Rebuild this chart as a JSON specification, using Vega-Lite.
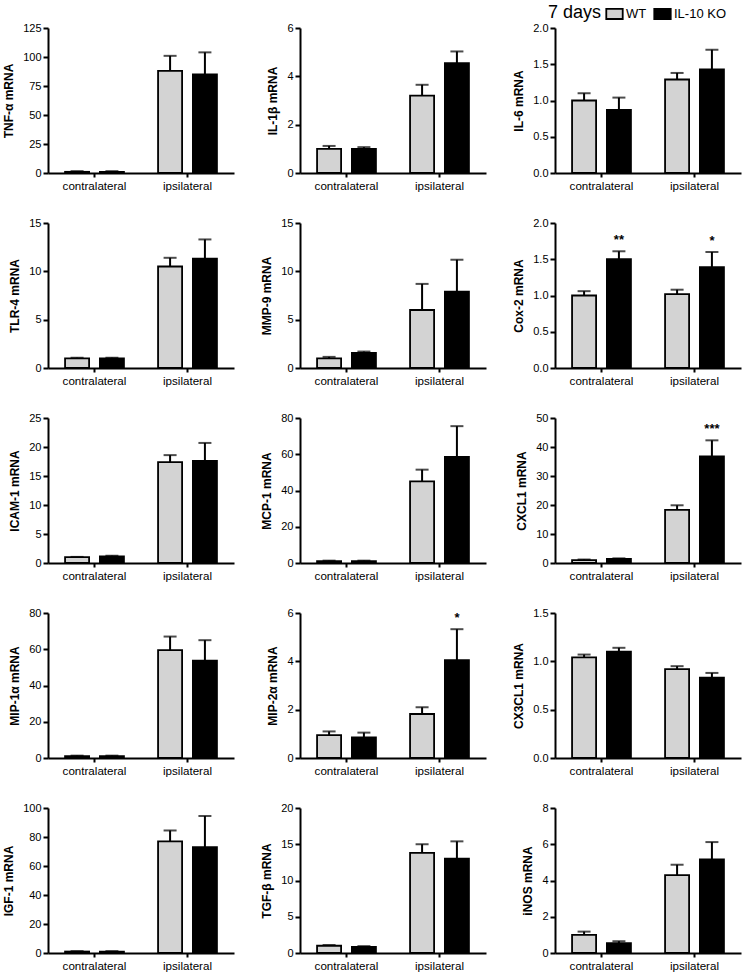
{
"$schema":"https://vega.github.io/schema/vega-lite/v6.json",
"padding":{"left":2,"top":4,"right":2,"bottom":4},
"background":"white",
"datasets":{"d":[
{"g":"TNF","side":"contralateral","group":"WT","mean":1,"hi":1.6},
{"g":"TNF","side":"contralateral","group":"IL-10 KO","mean":1,"hi":1.6},
{"g":"TNF","side":"ipsilateral","group":"WT","mean":88,"hi":101},
{"g":"TNF","side":"ipsilateral","group":"IL-10 KO","mean":85,"hi":104},
{"g":"IL1b","side":"contralateral","group":"WT","mean":1.0,"hi":1.12},
{"g":"IL1b","side":"contralateral","group":"IL-10 KO","mean":1.0,"hi":1.07},
{"g":"IL1b","side":"ipsilateral","group":"WT","mean":3.2,"hi":3.65},
{"g":"IL1b","side":"ipsilateral","group":"IL-10 KO","mean":4.55,"hi":5.03},
{"g":"IL6","side":"contralateral","group":"WT","mean":1.0,"hi":1.1},
{"g":"IL6","side":"contralateral","group":"IL-10 KO","mean":0.87,"hi":1.04},
{"g":"IL6","side":"ipsilateral","group":"WT","mean":1.29,"hi":1.38},
{"g":"IL6","side":"ipsilateral","group":"IL-10 KO","mean":1.43,"hi":1.7},
{"g":"TLR4","side":"contralateral","group":"WT","mean":1.0,"hi":1.06},
{"g":"TLR4","side":"contralateral","group":"IL-10 KO","mean":1.0,"hi":1.06},
{"g":"TLR4","side":"ipsilateral","group":"WT","mean":10.5,"hi":11.4},
{"g":"TLR4","side":"ipsilateral","group":"IL-10 KO","mean":11.3,"hi":13.3},
{"g":"MMP9","side":"contralateral","group":"WT","mean":1.0,"hi":1.15},
{"g":"MMP9","side":"contralateral","group":"IL-10 KO","mean":1.55,"hi":1.7},
{"g":"MMP9","side":"ipsilateral","group":"WT","mean":6.0,"hi":8.7},
{"g":"MMP9","side":"ipsilateral","group":"IL-10 KO","mean":7.9,"hi":11.2},
{"g":"COX2","side":"contralateral","group":"WT","mean":1.0,"hi":1.06},
{"g":"COX2","side":"contralateral","group":"IL-10 KO","mean":1.5,"hi":1.61,"sig":"**"},
{"g":"COX2","side":"ipsilateral","group":"WT","mean":1.02,"hi":1.08},
{"g":"COX2","side":"ipsilateral","group":"IL-10 KO","mean":1.39,"hi":1.6,"sig":"*"},
{"g":"ICAM","side":"contralateral","group":"WT","mean":1.0,"hi":1.05},
{"g":"ICAM","side":"contralateral","group":"IL-10 KO","mean":1.15,"hi":1.25},
{"g":"ICAM","side":"ipsilateral","group":"WT","mean":17.4,"hi":18.6},
{"g":"ICAM","side":"ipsilateral","group":"IL-10 KO","mean":17.6,"hi":20.7},
{"g":"MCP1","side":"contralateral","group":"WT","mean":1,"hi":1.3},
{"g":"MCP1","side":"contralateral","group":"IL-10 KO","mean":1,"hi":1.3},
{"g":"MCP1","side":"ipsilateral","group":"WT","mean":45,"hi":51.5},
{"g":"MCP1","side":"ipsilateral","group":"IL-10 KO","mean":58.5,"hi":75.5},
{"g":"CXCL1","side":"contralateral","group":"WT","mean":1.0,"hi":1.2},
{"g":"CXCL1","side":"contralateral","group":"IL-10 KO","mean":1.4,"hi":1.6},
{"g":"CXCL1","side":"ipsilateral","group":"WT","mean":18.3,"hi":19.9},
{"g":"CXCL1","side":"ipsilateral","group":"IL-10 KO","mean":36.8,"hi":42.3,"sig":"***"},
{"g":"MIP1a","side":"contralateral","group":"WT","mean":1,"hi":1.3},
{"g":"MIP1a","side":"contralateral","group":"IL-10 KO","mean":1,"hi":1.3},
{"g":"MIP1a","side":"ipsilateral","group":"WT","mean":59.5,"hi":67},
{"g":"MIP1a","side":"ipsilateral","group":"IL-10 KO","mean":53.7,"hi":65},
{"g":"MIP2a","side":"contralateral","group":"WT","mean":0.95,"hi":1.1},
{"g":"MIP2a","side":"contralateral","group":"IL-10 KO","mean":0.85,"hi":1.05},
{"g":"MIP2a","side":"ipsilateral","group":"WT","mean":1.82,"hi":2.1},
{"g":"MIP2a","side":"ipsilateral","group":"IL-10 KO","mean":4.05,"hi":5.33,"sig":"*"},
{"g":"CX3CL1","side":"contralateral","group":"WT","mean":1.04,"hi":1.07},
{"g":"CX3CL1","side":"contralateral","group":"IL-10 KO","mean":1.1,"hi":1.14},
{"g":"CX3CL1","side":"ipsilateral","group":"WT","mean":0.92,"hi":0.95},
{"g":"CX3CL1","side":"ipsilateral","group":"IL-10 KO","mean":0.83,"hi":0.88},
{"g":"IGF1","side":"contralateral","group":"WT","mean":1,"hi":1.3},
{"g":"IGF1","side":"contralateral","group":"IL-10 KO","mean":1,"hi":1.3},
{"g":"IGF1","side":"ipsilateral","group":"WT","mean":77,"hi":84.5},
{"g":"IGF1","side":"ipsilateral","group":"IL-10 KO","mean":73,"hi":94.5},
{"g":"TGFb","side":"contralateral","group":"WT","mean":1.0,"hi":1.1},
{"g":"TGFb","side":"contralateral","group":"IL-10 KO","mean":0.85,"hi":0.95},
{"g":"TGFb","side":"ipsilateral","group":"WT","mean":13.8,"hi":15},
{"g":"TGFb","side":"ipsilateral","group":"IL-10 KO","mean":13,"hi":15.4},
{"g":"iNOS","side":"contralateral","group":"WT","mean":1.0,"hi":1.18},
{"g":"iNOS","side":"contralateral","group":"IL-10 KO","mean":0.55,"hi":0.65},
{"g":"iNOS","side":"ipsilateral","group":"WT","mean":4.3,"hi":4.87},
{"g":"iNOS","side":"ipsilateral","group":"IL-10 KO","mean":5.17,"hi":6.12}
]},
"data":{"name":"d"},
"columns":3,
"spacing":{"row":25,"column":26},
"resolve":{"scale":{"x":"independent","y":"independent"}},
"concat":[
{"width":186,"height":145,"transform":[{"filter":"datum.g==='TNF'"}],
 "encoding":{"x":{"field":"side","type":"nominal","scale":{"domain":["contralateral","ipsilateral"],"paddingInner":0,"paddingOuter":0},"axis":{"title":null,"labelAngle":0}},
  "xOffset":{"field":"group","scale":{"domain":["WT","IL-10 KO"],"paddingInner":0.31,"paddingOuter":0.49}},
  "y":{"field":"mean","type":"quantitative","scale":{"domain":[0,125],"nice":false},"axis":{"title":"TNF-α mRNA","values":[0,25,50,75,100,125]}}},
 "layer":[
  {"mark":"bar","encoding":{"color":{"field":"group","title":"7 days","scale":{"domain":["WT","IL-10 KO"],"range":["#d3d3d3","#000000"]}}}},
  {"mark":"rule","encoding":{"y2":{"field":"hi"}}},
  {"mark":{"type":"tick","size":13},"encoding":{"y":{"field":"hi","type":"quantitative"}}}]},
{"width":186,"height":145,"transform":[{"filter":"datum.g==='IL1b'"}],
 "encoding":{"x":{"field":"side","type":"nominal","scale":{"domain":["contralateral","ipsilateral"],"paddingInner":0,"paddingOuter":0},"axis":{"title":null,"labelAngle":0}},
  "xOffset":{"field":"group","scale":{"domain":["WT","IL-10 KO"],"paddingInner":0.31,"paddingOuter":0.49}},
  "y":{"field":"mean","type":"quantitative","scale":{"domain":[0,6],"nice":false},"axis":{"title":"IL-1β mRNA","values":[0,2,4,6]}}},
 "layer":[
  {"mark":"bar","encoding":{"color":{"field":"group","title":"7 days","scale":{"domain":["WT","IL-10 KO"],"range":["#d3d3d3","#000000"]}}}},
  {"mark":"rule","encoding":{"y2":{"field":"hi"}}},
  {"mark":{"type":"tick","size":13},"encoding":{"y":{"field":"hi","type":"quantitative"}}}]},
{"width":186,"height":145,"transform":[{"filter":"datum.g==='IL6'"}],
 "encoding":{"x":{"field":"side","type":"nominal","scale":{"domain":["contralateral","ipsilateral"],"paddingInner":0,"paddingOuter":0},"axis":{"title":null,"labelAngle":0}},
  "xOffset":{"field":"group","scale":{"domain":["WT","IL-10 KO"],"paddingInner":0.31,"paddingOuter":0.49}},
  "y":{"field":"mean","type":"quantitative","scale":{"domain":[0,2],"nice":false},"axis":{"title":"IL-6 mRNA","values":[0,0.5,1,1.5,2],"format":".1f"}}},
 "layer":[
  {"mark":"bar","encoding":{"color":{"field":"group","title":"7 days","scale":{"domain":["WT","IL-10 KO"],"range":["#d3d3d3","#000000"]}}}},
  {"mark":"rule","encoding":{"y2":{"field":"hi"}}},
  {"mark":{"type":"tick","size":13},"encoding":{"y":{"field":"hi","type":"quantitative"}}}]},
{"width":186,"height":145,"transform":[{"filter":"datum.g==='TLR4'"}],
 "encoding":{"x":{"field":"side","type":"nominal","scale":{"domain":["contralateral","ipsilateral"],"paddingInner":0,"paddingOuter":0},"axis":{"title":null,"labelAngle":0}},
  "xOffset":{"field":"group","scale":{"domain":["WT","IL-10 KO"],"paddingInner":0.31,"paddingOuter":0.49}},
  "y":{"field":"mean","type":"quantitative","scale":{"domain":[0,15],"nice":false},"axis":{"title":"TLR-4 mRNA","values":[0,5,10,15]}}},
 "layer":[
  {"mark":"bar","encoding":{"color":{"field":"group","title":"7 days","scale":{"domain":["WT","IL-10 KO"],"range":["#d3d3d3","#000000"]}}}},
  {"mark":"rule","encoding":{"y2":{"field":"hi"}}},
  {"mark":{"type":"tick","size":13},"encoding":{"y":{"field":"hi","type":"quantitative"}}}]},
{"width":186,"height":145,"transform":[{"filter":"datum.g==='MMP9'"}],
 "encoding":{"x":{"field":"side","type":"nominal","scale":{"domain":["contralateral","ipsilateral"],"paddingInner":0,"paddingOuter":0},"axis":{"title":null,"labelAngle":0}},
  "xOffset":{"field":"group","scale":{"domain":["WT","IL-10 KO"],"paddingInner":0.31,"paddingOuter":0.49}},
  "y":{"field":"mean","type":"quantitative","scale":{"domain":[0,15],"nice":false},"axis":{"title":"MMP-9 mRNA","values":[0,5,10,15]}}},
 "layer":[
  {"mark":"bar","encoding":{"color":{"field":"group","title":"7 days","scale":{"domain":["WT","IL-10 KO"],"range":["#d3d3d3","#000000"]}}}},
  {"mark":"rule","encoding":{"y2":{"field":"hi"}}},
  {"mark":{"type":"tick","size":13},"encoding":{"y":{"field":"hi","type":"quantitative"}}}]},
{"width":186,"height":145,"transform":[{"filter":"datum.g==='COX2'"}],
 "encoding":{"x":{"field":"side","type":"nominal","scale":{"domain":["contralateral","ipsilateral"],"paddingInner":0,"paddingOuter":0},"axis":{"title":null,"labelAngle":0}},
  "xOffset":{"field":"group","scale":{"domain":["WT","IL-10 KO"],"paddingInner":0.31,"paddingOuter":0.49}},
  "y":{"field":"mean","type":"quantitative","scale":{"domain":[0,2],"nice":false},"axis":{"title":"Cox-2 mRNA","values":[0,0.5,1,1.5,2],"format":".1f"}}},
 "layer":[
  {"mark":"bar","encoding":{"color":{"field":"group","title":"7 days","scale":{"domain":["WT","IL-10 KO"],"range":["#d3d3d3","#000000"]}}}},
  {"mark":"rule","encoding":{"y2":{"field":"hi"}}},
  {"mark":{"type":"tick","size":13},"encoding":{"y":{"field":"hi","type":"quantitative"}}},
  {"transform":[{"filter":"datum.sig"}],"mark":{"type":"text","dy":-11},"encoding":{"y":{"field":"hi","type":"quantitative"},"text":{"field":"sig"}}}]},
{"width":186,"height":145,"transform":[{"filter":"datum.g==='ICAM'"}],
 "encoding":{"x":{"field":"side","type":"nominal","scale":{"domain":["contralateral","ipsilateral"],"paddingInner":0,"paddingOuter":0},"axis":{"title":null,"labelAngle":0}},
  "xOffset":{"field":"group","scale":{"domain":["WT","IL-10 KO"],"paddingInner":0.31,"paddingOuter":0.49}},
  "y":{"field":"mean","type":"quantitative","scale":{"domain":[0,25],"nice":false},"axis":{"title":"ICAM-1 mRNA","values":[0,5,10,15,20,25]}}},
 "layer":[
  {"mark":"bar","encoding":{"color":{"field":"group","title":"7 days","scale":{"domain":["WT","IL-10 KO"],"range":["#d3d3d3","#000000"]}}}},
  {"mark":"rule","encoding":{"y2":{"field":"hi"}}},
  {"mark":{"type":"tick","size":13},"encoding":{"y":{"field":"hi","type":"quantitative"}}}]},
{"width":186,"height":145,"transform":[{"filter":"datum.g==='MCP1'"}],
 "encoding":{"x":{"field":"side","type":"nominal","scale":{"domain":["contralateral","ipsilateral"],"paddingInner":0,"paddingOuter":0},"axis":{"title":null,"labelAngle":0}},
  "xOffset":{"field":"group","scale":{"domain":["WT","IL-10 KO"],"paddingInner":0.31,"paddingOuter":0.49}},
  "y":{"field":"mean","type":"quantitative","scale":{"domain":[0,80],"nice":false},"axis":{"title":"MCP-1 mRNA","values":[0,20,40,60,80]}}},
 "layer":[
  {"mark":"bar","encoding":{"color":{"field":"group","title":"7 days","scale":{"domain":["WT","IL-10 KO"],"range":["#d3d3d3","#000000"]}}}},
  {"mark":"rule","encoding":{"y2":{"field":"hi"}}},
  {"mark":{"type":"tick","size":13},"encoding":{"y":{"field":"hi","type":"quantitative"}}}]},
{"width":186,"height":145,"transform":[{"filter":"datum.g==='CXCL1'"}],
 "encoding":{"x":{"field":"side","type":"nominal","scale":{"domain":["contralateral","ipsilateral"],"paddingInner":0,"paddingOuter":0},"axis":{"title":null,"labelAngle":0}},
  "xOffset":{"field":"group","scale":{"domain":["WT","IL-10 KO"],"paddingInner":0.31,"paddingOuter":0.49}},
  "y":{"field":"mean","type":"quantitative","scale":{"domain":[0,50],"nice":false},"axis":{"title":"CXCL1 mRNA","values":[0,10,20,30,40,50]}}},
 "layer":[
  {"mark":"bar","encoding":{"color":{"field":"group","title":"7 days","scale":{"domain":["WT","IL-10 KO"],"range":["#d3d3d3","#000000"]}}}},
  {"mark":"rule","encoding":{"y2":{"field":"hi"}}},
  {"mark":{"type":"tick","size":13},"encoding":{"y":{"field":"hi","type":"quantitative"}}},
  {"transform":[{"filter":"datum.sig"}],"mark":{"type":"text","dy":-11},"encoding":{"y":{"field":"hi","type":"quantitative"},"text":{"field":"sig"}}}]},
{"width":186,"height":145,"transform":[{"filter":"datum.g==='MIP1a'"}],
 "encoding":{"x":{"field":"side","type":"nominal","scale":{"domain":["contralateral","ipsilateral"],"paddingInner":0,"paddingOuter":0},"axis":{"title":null,"labelAngle":0}},
  "xOffset":{"field":"group","scale":{"domain":["WT","IL-10 KO"],"paddingInner":0.31,"paddingOuter":0.49}},
  "y":{"field":"mean","type":"quantitative","scale":{"domain":[0,80],"nice":false},"axis":{"title":"MIP-1α mRNA","values":[0,20,40,60,80]}}},
 "layer":[
  {"mark":"bar","encoding":{"color":{"field":"group","title":"7 days","scale":{"domain":["WT","IL-10 KO"],"range":["#d3d3d3","#000000"]}}}},
  {"mark":"rule","encoding":{"y2":{"field":"hi"}}},
  {"mark":{"type":"tick","size":13},"encoding":{"y":{"field":"hi","type":"quantitative"}}}]},
{"width":186,"height":145,"transform":[{"filter":"datum.g==='MIP2a'"}],
 "encoding":{"x":{"field":"side","type":"nominal","scale":{"domain":["contralateral","ipsilateral"],"paddingInner":0,"paddingOuter":0},"axis":{"title":null,"labelAngle":0}},
  "xOffset":{"field":"group","scale":{"domain":["WT","IL-10 KO"],"paddingInner":0.31,"paddingOuter":0.49}},
  "y":{"field":"mean","type":"quantitative","scale":{"domain":[0,6],"nice":false},"axis":{"title":"MIP-2α mRNA","values":[0,2,4,6]}}},
 "layer":[
  {"mark":"bar","encoding":{"color":{"field":"group","title":"7 days","scale":{"domain":["WT","IL-10 KO"],"range":["#d3d3d3","#000000"]}}}},
  {"mark":"rule","encoding":{"y2":{"field":"hi"}}},
  {"mark":{"type":"tick","size":13},"encoding":{"y":{"field":"hi","type":"quantitative"}}},
  {"transform":[{"filter":"datum.sig"}],"mark":{"type":"text","dy":-11},"encoding":{"y":{"field":"hi","type":"quantitative"},"text":{"field":"sig"}}}]},
{"width":186,"height":145,"transform":[{"filter":"datum.g==='CX3CL1'"}],
 "encoding":{"x":{"field":"side","type":"nominal","scale":{"domain":["contralateral","ipsilateral"],"paddingInner":0,"paddingOuter":0},"axis":{"title":null,"labelAngle":0}},
  "xOffset":{"field":"group","scale":{"domain":["WT","IL-10 KO"],"paddingInner":0.31,"paddingOuter":0.49}},
  "y":{"field":"mean","type":"quantitative","scale":{"domain":[0,1.5],"nice":false},"axis":{"title":"CX3CL1 mRNA","values":[0,0.5,1,1.5],"format":".1f"}}},
 "layer":[
  {"mark":"bar","encoding":{"color":{"field":"group","title":"7 days","scale":{"domain":["WT","IL-10 KO"],"range":["#d3d3d3","#000000"]}}}},
  {"mark":"rule","encoding":{"y2":{"field":"hi"}}},
  {"mark":{"type":"tick","size":13},"encoding":{"y":{"field":"hi","type":"quantitative"}}}]},
{"width":186,"height":145,"transform":[{"filter":"datum.g==='IGF1'"}],
 "encoding":{"x":{"field":"side","type":"nominal","scale":{"domain":["contralateral","ipsilateral"],"paddingInner":0,"paddingOuter":0},"axis":{"title":null,"labelAngle":0}},
  "xOffset":{"field":"group","scale":{"domain":["WT","IL-10 KO"],"paddingInner":0.31,"paddingOuter":0.49}},
  "y":{"field":"mean","type":"quantitative","scale":{"domain":[0,100],"nice":false},"axis":{"title":"IGF-1 mRNA","values":[0,20,40,60,80,100]}}},
 "layer":[
  {"mark":"bar","encoding":{"color":{"field":"group","title":"7 days","scale":{"domain":["WT","IL-10 KO"],"range":["#d3d3d3","#000000"]}}}},
  {"mark":"rule","encoding":{"y2":{"field":"hi"}}},
  {"mark":{"type":"tick","size":13},"encoding":{"y":{"field":"hi","type":"quantitative"}}}]},
{"width":186,"height":145,"transform":[{"filter":"datum.g==='TGFb'"}],
 "encoding":{"x":{"field":"side","type":"nominal","scale":{"domain":["contralateral","ipsilateral"],"paddingInner":0,"paddingOuter":0},"axis":{"title":null,"labelAngle":0}},
  "xOffset":{"field":"group","scale":{"domain":["WT","IL-10 KO"],"paddingInner":0.31,"paddingOuter":0.49}},
  "y":{"field":"mean","type":"quantitative","scale":{"domain":[0,20],"nice":false},"axis":{"title":"TGF-β mRNA","values":[0,5,10,15,20]}}},
 "layer":[
  {"mark":"bar","encoding":{"color":{"field":"group","title":"7 days","scale":{"domain":["WT","IL-10 KO"],"range":["#d3d3d3","#000000"]}}}},
  {"mark":"rule","encoding":{"y2":{"field":"hi"}}},
  {"mark":{"type":"tick","size":13},"encoding":{"y":{"field":"hi","type":"quantitative"}}}]},
{"width":186,"height":145,"transform":[{"filter":"datum.g==='iNOS'"}],
 "encoding":{"x":{"field":"side","type":"nominal","scale":{"domain":["contralateral","ipsilateral"],"paddingInner":0,"paddingOuter":0},"axis":{"title":null,"labelAngle":0}},
  "xOffset":{"field":"group","scale":{"domain":["WT","IL-10 KO"],"paddingInner":0.31,"paddingOuter":0.49}},
  "y":{"field":"mean","type":"quantitative","scale":{"domain":[0,8],"nice":false},"axis":{"title":"iNOS mRNA","values":[0,2,4,6,8]}}},
 "layer":[
  {"mark":"bar","encoding":{"color":{"field":"group","title":"7 days","scale":{"domain":["WT","IL-10 KO"],"range":["#d3d3d3","#000000"]}}}},
  {"mark":"rule","encoding":{"y2":{"field":"hi"}}},
  {"mark":{"type":"tick","size":13},"encoding":{"y":{"field":"hi","type":"quantitative"}}}]}
],
"config":{
 "font":"Liberation Sans",
 "view":{"stroke":null},
 "bar":{"stroke":"black","strokeWidth":1.8},
 "rule":{"color":"black","strokeWidth":2},
 "tick":{"color":"black","thickness":2},
 "text":{"font":"Liberation Sans","fontSize":13,"fontWeight":"bold","color":"black","baseline":"middle","align":"center"},
 "axis":{"grid":false,"domainColor":"black","domainWidth":2,"tickColor":"black","tickWidth":2,"labelColor":"black","labelFont":"Liberation Sans","titleFont":"Liberation Sans","titleColor":"black","titleFontSize":12,"titleFontWeight":"bold"},
 "axisX":{"tickSize":4,"labelPadding":3,"labelFontSize":11.6},
 "axisY":{"tickSize":5,"labelPadding":2,"labelFontSize":11,"titlePadding":7},
 "legend":{"orient":"none","legendX":500,"legendY":-24,"direction":"horizontal","titleOrient":"left","titleFontSize":18,"titleFontWeight":"normal","titleColor":"black","titleFont":"Liberation Sans","titlePadding":3,"labelFont":"Liberation Sans","labelFontSize":13,"labelColor":"black","labelOffset":2,"columnPadding":3,"symbolType":"M-1,-0.62H1V0.62H-1Z","symbolSize":270,"symbolStrokeColor":"black","symbolStrokeWidth":1.5,"symbolOpacity":1}
}
}
